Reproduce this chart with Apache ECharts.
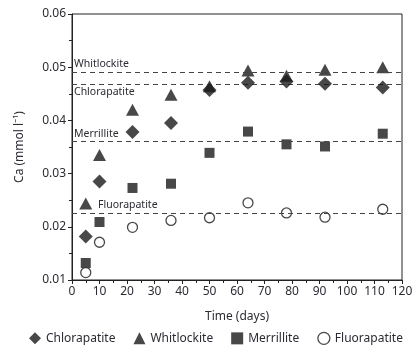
<!DOCTYPE html>
<html><head><meta charset="utf-8">
<script src="https://cdn.jsdelivr.net/npm/echarts@6/dist/echarts.min.js"></script>
<style>html,body{margin:0;padding:0;background:#fff}#c{width:416px;height:347px}</style>
</head><body><div id="c"></div>
<script>
var days = [5, 10, 22, 36, 50, 64, 78, 92, 113];
var chlorapatite = [0.0182, 0.0285, 0.0378, 0.0395, 0.0457, 0.0471, 0.0473, 0.0469, 0.0462];
var whitlockite = [0.0244, 0.0335, 0.0420, 0.0448, 0.0464, 0.0494, 0.0484, 0.0495, 0.0500];
var merrillite = [0.0132, 0.0209, 0.0273, 0.0281, 0.0339, 0.0379, 0.0355, 0.0351, 0.0375];
var fluorapatite = [0.0114, 0.0171, 0.0199, 0.0212, 0.0217, 0.0245, 0.0226, 0.0218, 0.0233];
var refNames = ['Whitlockite', 'Chlorapatite', 'Merrillite', 'Fluorapatite'];
var refValues = [0.0491, 0.0468, 0.0360, 0.0226];
var yTicks = [0.01, 0.02, 0.03, 0.04, 0.05, 0.06];
var xTicks = [0, 10, 20, 30, 40, 50, 60, 70, 80, 90, 100, 110, 120];

var FONT = 'Noto Sans';
var TXT = '#2b2b33';
function pts(ys) { return days.map(function (d, i) { return [d, ys[i]]; }); }

var labelPos = ['insideStartTop', 'insideStartBottom', 'insideStartTop', 'insideStartTop'];
var labelPad = [[0, 0, 0, 0], [0, 0, 0, 0], [0, 0, 0, 0], [0, 0, 0, 24]];
var refLines = refNames.map(function (n, i) {
  return {
    yAxis: refValues[i], name: n,
    label: { show: true, formatter: n, position: labelPos[i], distance: 2, padding: labelPad[i],
      fontFamily: FONT, fontSize: 10.5, color: TXT }
  };
});

var chart = echarts.init(document.getElementById('c'));
chart.setOption({
  animation: false,
  textStyle: { fontFamily: FONT },
  grid: { left: 72, right: 14, top: 14, bottom: 67, show: true, borderColor: '#222', borderWidth: 1 },
  legend: {
    bottom: -3, left: 24, itemGap: 18, itemWidth: 12, itemHeight: 12,
    textStyle: { fontFamily: FONT, fontSize: 12, color: TXT },
    data: [
      { name: 'Chlorapatite', icon: 'diamond' },
      { name: 'Whitlockite', icon: 'triangle' },
      { name: 'Merrillite', icon: 'rect' },
      { name: 'Fluorapatite', icon: 'circle', itemStyle: { color: '#fff', borderColor: '#1a1a1a', borderWidth: 1.3 } }
    ]
  },
  xAxis: {
    type: 'value', min: xTicks[0], max: xTicks[xTicks.length - 1], interval: 10,
    name: 'Time (days)', nameLocation: 'middle', nameGap: 31,
    nameTextStyle: { fontFamily: FONT, fontSize: 12, color: TXT },
    axisLine: { lineStyle: { color: '#222' } },
    axisTick: { show: true, length: 4, lineStyle: { color: '#222' } },
    minorTick: { show: true, splitNumber: 2, length: 3, lineStyle: { color: '#222' } },
    splitLine: { show: false },
    axisLabel: { fontFamily: FONT, fontSize: 12, color: TXT, margin: 6 }
  },
  yAxis: {
    type: 'value', min: yTicks[0], max: yTicks[yTicks.length - 1], interval: 0.01,
    name: 'Ca (mmol l\u207B\u00B9)', nameLocation: 'middle', nameGap: 46,
    nameTextStyle: { fontFamily: FONT, fontSize: 12, color: TXT },
    axisLine: { lineStyle: { color: '#222' } },
    axisTick: { show: true, length: 4, lineStyle: { color: '#222' } },
    minorTick: { show: true, splitNumber: 2, length: 3, lineStyle: { color: '#222' } },
    splitLine: { show: false },
    axisLabel: { fontFamily: FONT, fontSize: 12, color: TXT, margin: 6,
      formatter: function (v) { return v.toFixed(2); } }
  },
  series: [
    {
      name: 'Merrillite', type: 'scatter', symbol: 'rect', symbolSize: 10,
      itemStyle: { color: '#1a1a1a' }, data: pts(merrillite), z: 3,
      markLine: { silent: true, symbol: 'none', precision: 5,
        lineStyle: { color: '#444', type: [5, 4], width: 1.2 },
        data: refLines, label: { show: true } }
    },
    {
      name: 'Fluorapatite', type: 'scatter', symbol: 'circle', symbolSize: 10,
      itemStyle: { color: '#fff', borderColor: '#1a1a1a', borderWidth: 1.3 }, data: pts(fluorapatite), z: 4
    },
    {
      name: 'Whitlockite', type: 'scatter', symbol: 'triangle', symbolSize: [13, 12],
      itemStyle: { color: '#1a1a1a' }, data: pts(whitlockite), z: 3
    },
    {
      name: 'Chlorapatite', type: 'scatter', symbol: 'diamond', symbolSize: 14,
      itemStyle: { color: '#1a1a1a' }, data: pts(chlorapatite), z: 5
    }
  ]
});
</script></body></html>
